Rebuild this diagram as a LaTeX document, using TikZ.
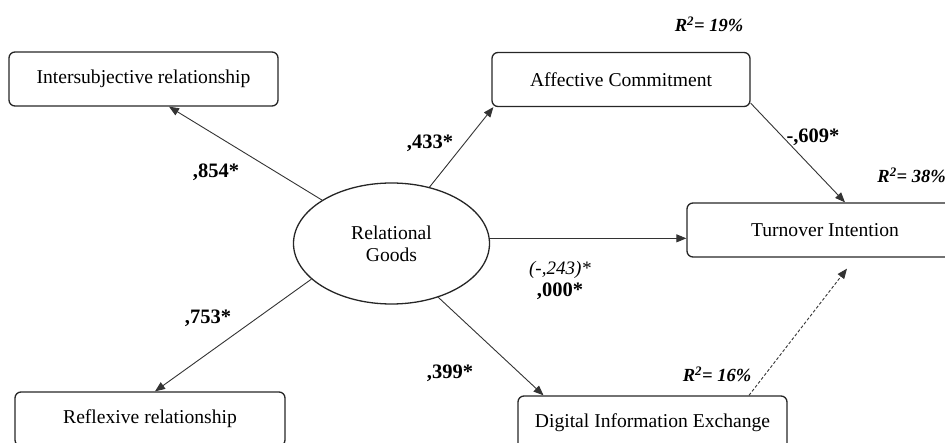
\documentclass[tikz,border=0pt]{standalone}
\usepackage{fontspec}
\setmainfont{Liberation Serif}
\usetikzlibrary{arrows.meta,shapes.geometric,calc}
\tikzset{
  boxnode/.style={draw=black!85, line width=1.3pt, rounded corners=6pt, minimum height=54pt, inner sep=0pt, font=\fontsize{19.6}{23}\selectfont},
  ellnode/.style={draw=black!85, line width=1.3pt, ellipse, minimum width=196pt, minimum height=121pt, inner sep=0pt, align=center, font=\fontsize{19.6}{22}\selectfont},
  arr/.style={draw=black!80, line width=0.9pt, -{Triangle[length=10pt,width=8pt]}},
  dasharr/.style={arr, dash pattern=on 3pt off 2pt},
  coef/.style={inner sep=0pt, font=\fontsize{20.5}{23}\selectfont\bfseries},
  rsq/.style={inner sep=0pt, font=\fontsize{18.5}{22}\selectfont\bfseries\itshape},
  icoef/.style={inner sep=0pt, font=\fontsize{19}{22}\selectfont\itshape}
}
\begin{document}
\begin{tikzpicture}[x=1pt,y=-1pt]
\useasboundingbox (0,0) rectangle (945,443);
\begin{scope}
\clip (0,0) rectangle (945,443);
\node[boxnode, minimum width=269pt] (inter) at (143.5,79) {Intersubjective relationship};
\node[boxnode, minimum width=258pt] (affect) at (621,79.5) {Affective Commitment};
\node[boxnode, minimum width=276pt] (turn) at (825,230) {Turnover Intention};
\node[boxnode, minimum width=269pt] (digital) at (652.5,423) {\raisebox{4pt}{Digital Information Exchange}};
\node[boxnode, minimum width=270pt] (reflex) at (150,419) {\raisebox{3pt}{Reflexive relationship}};
\node[ellnode] (rg) at (391.5,243.5) {Relational\\Goods};

\draw[arr] (rg.148) -- ([xshift=25.5pt]inter.south);
\draw[arr] (rg.56) -- ([xshift=2pt]affect.south west);
\draw[arr] (rg.204) -- ([xshift=5pt]reflex.north);
\draw[arr] (rg.311) -- ([xshift=-109pt]digital.north);
\draw[arr] (rg.3) -- (rg.3 -| turn.west);
\draw[arr] ([yshift=4pt]affect.south east) -- ([xshift=20pt]turn.north);
\draw[dasharr] ([xshift=96.5pt]digital.north) -- ([xshift=22pt,yshift=-11pt]turn.south);

\node[rsq] (r19) at (709,24) {R\textsuperscript{2}= 19\%};
\node[coef] (c433) at (430,143) {,433*};
\node[coef] (c609) at (813,137) {-,609*};
\node[rsq, anchor=east] (r38) at (946,175) {R\textsuperscript{2}= 38\%};
\node[coef] (c854) at (216,172) {,854*};
\node[coef] (c753) at (208,318) {,753*};
\node[icoef] (c243) at (560,270) {(-,243)*};
\node[coef] (c000) at (560,291) {,000*};
\node[coef] (c399) at (450,373) {,399*};
\node[rsq] (r16) at (717,374) {R\textsuperscript{2}= 16\%};
\end{scope}
\end{tikzpicture}
\end{document}
